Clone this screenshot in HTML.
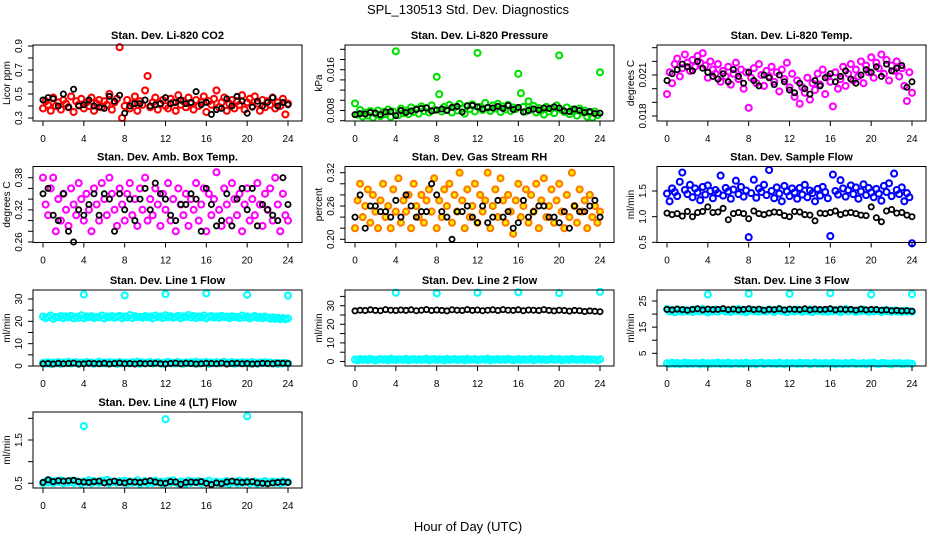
<!DOCTYPE html>
<html><head><meta charset="utf-8"><title>SPL_130513 Std. Dev. Diagnostics</title>
<style>html,body{margin:0;padding:0;background:#fff}svg{display:block;font-family:"Liberation Sans",Arial,sans-serif}</style>
</head><body>
<svg id="chart" width="936" height="540" viewBox="0 0 936 540">
<rect x="0" y="0" width="936" height="540" fill="#fff"/>
<text x="468" y="14" font-size="13" text-anchor="middle">SPL_130513  Std. Dev. Diagnostics</text>
<text x="468" y="531" font-size="13" text-anchor="middle">Hour of Day (UTC)</text>
</svg>
<script>
const xTicks=[0,4,8,12,16,20,24];
const co2Red=[0.38,0.44,0.41,0.36,0.47,0.40,0.43,0.37,0.45,0.42,0.39,0.48,0.35,0.44,0.41,0.46,0.38,0.43,0.40,0.47,0.36,0.42,0.45,0.39,0.44,0.41,0.50,0.37,0.43,0.46,0.89,0.30,0.40,0.45,0.38,0.42,0.48,0.36,0.44,0.41,0.53,0.65,0.39,0.43,0.47,0.37,0.42,0.45,0.40,0.38,0.46,0.43,0.36,0.49,0.41,0.44,0.39,0.47,0.42,0.37,0.45,0.40,0.43,0.48,0.35,0.44,0.41,0.46,0.53,0.39,0.43,0.47,0.36,0.42,0.45,0.38,0.44,0.41,0.49,0.37,0.43,0.46,0.40,0.48,0.42,0.36,0.45,0.39,0.44,0.41,0.47,0.38,0.43,0.40,0.46,0.33,0.42];
const co2Black=[0.45,0.47,0.46,0.40,0.50,0.39,0.54,0.40,0.41,0.45,0.40,0.39,0.38,0.48,0.44,0.49,0.34,0.40,0.42,0.42,0.45,0.40,0.41,0.42,0.47,0.42,0.43,0.45,0.42,0.43,0.52,0.41,0.43,0.33,0.37,0.38,0.46,0.40,0.48,0.44,0.34,0.39,0.44,0.40,0.43,0.47,0.40,0.43,0.41];
const presGreen=[0.0094,0.0072,0.0081,0.0068,0.0076,0.0070,0.0079,0.0066,0.0074,0.0080,0.0069,0.0077,0.0073,0.0082,0.0067,0.0078,0.0196,0.0071,0.0084,0.0075,0.0080,0.0073,0.0086,0.0077,0.0083,0.0074,0.0088,0.0079,0.0085,0.0076,0.0090,0.0081,0.0146,0.0112,0.0078,0.0087,0.0082,0.0091,0.0076,0.0086,0.0080,0.0093,0.0084,0.0074,0.0089,0.0083,0.0092,0.0078,0.0193,0.0087,0.0081,0.0095,0.0085,0.0079,0.0090,0.0084,0.0093,0.0077,0.0088,0.0082,0.0091,0.0079,0.0086,0.0083,0.0152,0.0114,0.0087,0.0078,0.0098,0.0082,0.0089,0.0076,0.0085,0.0080,0.0072,0.0087,0.0078,0.0084,0.0075,0.0090,0.0188,0.0081,0.0077,0.0086,0.0073,0.0082,0.0079,0.0070,0.0084,0.0076,0.0080,0.0068,0.0075,0.0066,0.0078,0.0071,0.0155];
const presBlack=[0.0072,0.0074,0.0073,0.0076,0.0075,0.0072,0.0077,0.0078,0.0070,0.0080,0.0076,0.0079,0.0082,0.0084,0.0085,0.0079,0.0081,0.0083,0.0080,0.0086,0.0088,0.0077,0.0089,0.0090,0.0087,0.0083,0.0086,0.0085,0.0088,0.0084,0.0090,0.0082,0.0086,0.0077,0.0080,0.0083,0.0081,0.0085,0.0084,0.0087,0.0085,0.0079,0.0078,0.0083,0.0080,0.0076,0.0078,0.0074,0.0075];
const tempMag=[0.0196,0.0212,0.0204,0.0218,0.0222,0.0209,0.0215,0.0225,0.0219,0.0213,0.0221,0.0216,0.0224,0.0219,0.0226,0.0217,0.0208,0.0220,0.0214,0.0211,0.0218,0.0205,0.0213,0.0209,0.0216,0.0203,0.0211,0.0219,0.0207,0.0214,0.0200,0.0212,0.0186,0.0208,0.0215,0.0204,0.0218,0.0210,0.0202,0.0213,0.0209,0.0216,0.0205,0.0212,0.0198,0.0214,0.0207,0.0219,0.0201,0.0211,0.0194,0.0206,0.0189,0.0201,0.0197,0.0208,0.0192,0.0204,0.0199,0.0211,0.0203,0.0214,0.0196,0.0209,0.0205,0.0187,0.0212,0.0200,0.0207,0.0216,0.0202,0.0211,0.0218,0.0206,0.0214,0.0209,0.0220,0.0204,0.0217,0.0212,0.0223,0.0208,0.0219,0.0215,0.0225,0.0211,0.0221,0.0206,0.0217,0.0213,0.0220,0.0209,0.0215,0.0202,0.0191,0.0212,0.0197];
const tempBlack=[0.0206,0.0211,0.0214,0.0218,0.0216,0.0213,0.0220,0.0215,0.0212,0.0209,0.0207,0.0211,0.0205,0.0214,0.0209,0.0204,0.0212,0.0206,0.0202,0.0210,0.0208,0.0203,0.0210,0.0205,0.0199,0.0197,0.0204,0.0200,0.0196,0.0206,0.0202,0.0208,0.0211,0.0205,0.0209,0.0213,0.0207,0.0204,0.0210,0.0214,0.0212,0.0216,0.0209,0.0218,0.0213,0.0215,0.0217,0.0201,0.0205];
const ambMag=[0.38,0.33,0.31,0.36,0.38,0.28,0.34,0.30,0.35,0.32,0.29,0.36,0.33,0.31,0.37,0.34,0.30,0.35,0.32,0.28,0.36,0.33,0.30,0.37,0.34,0.31,0.38,0.35,0.32,0.29,0.36,0.33,0.30,0.35,0.37,0.31,0.34,0.29,0.36,0.32,0.38,0.30,0.34,0.31,0.36,0.33,0.29,0.35,0.32,0.37,0.30,0.34,0.28,0.36,0.33,0.31,0.35,0.29,0.34,0.32,0.37,0.30,0.33,0.36,0.28,0.35,0.31,0.34,0.39,0.32,0.29,0.36,0.33,0.30,0.37,0.34,0.31,0.35,0.28,0.33,0.36,0.30,0.34,0.31,0.37,0.33,0.29,0.35,0.32,0.36,0.30,0.38,0.33,0.28,0.35,0.31,0.30];
const ambBlack=[0.35,0.36,0.31,0.30,0.35,0.28,0.26,0.32,0.31,0.33,0.35,0.31,0.35,0.34,0.28,0.35,0.32,0.34,0.30,0.34,0.36,0.32,0.37,0.35,0.34,0.31,0.30,0.33,0.33,0.35,0.34,0.28,0.36,0.33,0.29,0.30,0.35,0.29,0.34,0.36,0.32,0.36,0.29,0.33,0.32,0.31,0.30,0.38,0.33];
const rhColor=[0.22,0.27,0.30,0.24,0.26,0.29,0.23,0.28,0.25,0.22,0.27,0.30,0.24,0.26,0.22,0.29,0.25,0.31,0.23,0.27,0.25,0.28,0.22,0.30,0.26,0.24,0.28,0.23,0.27,0.29,0.25,0.31,0.22,0.27,0.24,0.29,0.26,0.30,0.23,0.28,0.25,0.32,0.27,0.22,0.29,0.24,0.26,0.30,0.23,0.28,0.25,0.27,0.32,0.22,0.26,0.29,0.24,0.31,0.27,0.23,0.28,0.25,0.21,0.27,0.30,0.24,0.26,0.29,0.23,0.28,0.25,0.30,0.22,0.27,0.31,0.24,0.26,0.29,0.23,0.27,0.30,0.25,0.22,0.28,0.24,0.32,0.26,0.23,0.29,0.25,0.27,0.22,0.28,0.24,0.26,0.23,0.25];
const rhBlack=[0.24,0.28,0.22,0.26,0.26,0.25,0.25,0.24,0.27,0.24,0.28,0.26,0.24,0.25,0.25,0.30,0.28,0.25,0.24,0.20,0.25,0.25,0.26,0.24,0.23,0.26,0.23,0.24,0.27,0.24,0.25,0.22,0.23,0.27,0.24,0.25,0.26,0.26,0.24,0.24,0.23,0.25,0.22,0.26,0.25,0.25,0.26,0.27,0.24];
const flowBlue=[1.45,1.30,1.55,1.48,1.40,1.68,1.86,1.52,1.44,1.62,1.38,1.55,1.47,1.32,1.58,1.43,1.61,1.50,1.36,1.52,1.46,1.80,1.41,1.56,1.49,1.35,1.53,1.70,1.44,1.58,1.39,1.51,0.60,1.46,1.72,1.37,1.55,1.48,1.62,1.42,1.91,1.50,1.36,1.57,1.45,1.30,1.60,1.49,1.40,1.55,1.47,1.35,1.56,1.43,1.62,1.38,1.51,1.46,1.30,1.54,1.41,1.58,1.48,1.36,0.62,1.82,1.50,1.43,1.71,1.55,1.39,1.52,1.61,1.44,1.57,1.35,1.49,1.63,1.42,1.56,1.47,1.38,1.54,1.45,1.31,1.60,1.48,1.65,1.40,1.84,1.52,1.44,1.57,1.30,1.46,1.38,0.48];
const flowBlack=[1.07,1.04,1.06,1.01,1.10,1.00,1.08,1.10,1.19,1.08,1.09,1.16,0.94,1.06,1.08,1.06,0.96,1.11,1.06,1.04,1.07,1.09,1.08,1.02,1.00,1.10,1.09,1.04,1.03,0.92,1.07,1.06,1.08,1.11,1.04,1.07,1.08,1.06,1.03,1.02,1.19,0.98,0.90,1.11,1.14,1.07,1.08,1.03,1.00];
const line1CyanHi=[22.1,21.4,21.9,22.6,21.2,22.0,21.7,22.4,21.5,22.2,21.8,22.5,21.3,22.0,21.6,22.7,21.4,22.1,21.9,22.3,21.5,22.0,21.7,22.6,21.3,22.2,21.8,22.4,21.6,22.0,22.5,21.4,22.1,21.7,22.8,21.5,22.3,21.9,22.0,21.6,22.4,21.8,22.2,21.3,22.6,21.9,22.1,21.5,22.7,21.8,22.3,21.6,22.0,22.5,21.4,22.2,21.9,22.8,21.7,22.4,21.5,22.1,21.8,22.6,21.3,22.0,22.4,21.7,22.2,21.6,22.5,21.9,22.1,21.4,22.3,21.8,22.0,21.5,22.6,21.7,22.2,21.3,21.9,22.4,21.6,22.0,21.4,22.1,21.7,21.2,21.8,21.1,21.6,21.0,21.5,20.9,21.3];
const line1CyanLo=[1.4,1.1,1.7,0.9,1.5,1.2,1.8,1.0,1.6,1.3,1.9,1.1,1.4,1.7,1.0,1.5,1.2,1.8,1.3,1.6,1.0,1.4,1.9,1.2,1.5,1.1,1.7,1.3,1.6,1.0,1.8,1.2,1.5,1.4,1.1,1.7,1.3,1.9,1.0,1.6,1.2,1.5,1.8,1.1,1.4,1.7,1.3,1.0,1.6,1.9,1.2,1.5,1.1,1.8,1.4,1.0,1.6,1.3,1.7,1.2,1.9,1.1,1.5,1.4,1.8,1.0,1.6,1.3,1.7,1.2,1.5,1.9,1.1,1.4,1.8,1.0,1.6,1.3,1.7,1.2,1.5,1.1,1.8,1.4,1.0,1.6,1.3,1.7,1.2,1.5,1.1,1.4,1.0,1.3,1.2,1.4,1.1];
const line1Black=[1.0,1.1,0.9,1.2,1.0,1.1,1.3,0.9,1.0,1.2,1.1,1.0,1.2,0.9,1.1,1.3,1.0,1.1,0.9,1.2,1.0,1.1,1.2,1.0,0.9,1.1,1.3,1.0,1.2,1.1,0.9,1.0,1.2,1.1,1.0,1.3,0.9,1.1,1.2,1.0,1.1,0.9,1.0,1.2,1.1,1.0,1.3,1.2,1.1];
const line1OutHours=[4,8,12,16,20,24];
const line1OutVals=[32,31.6,32.2,32.5,31.9,31.5];
const line2Black=[27.2,27.6,27.4,27.8,27.5,27.3,27.9,27.6,27.4,27.7,27.5,27.8,27.3,27.6,27.9,27.4,27.7,27.5,27.2,27.8,27.6,27.4,27.9,27.5,27.7,27.3,27.6,27.8,27.4,27.9,27.6,27.5,27.8,27.3,27.7,27.6,27.4,27.9,27.5,27.2,27.6,27.4,27.1,27.5,27.3,26.9,27.2,27.0,26.8];
const line2CyanLo=[1.0,0.7,1.3,0.9,1.2,0.8,1.4,1.0,0.6,1.1,1.3,0.9,1.2,0.7,1.5,1.0,0.8,1.2,1.1,0.9,1.4,0.7,1.0,1.3,0.8,1.2,0.9,1.1,1.5,0.7,1.0,1.3,0.8,1.2,1.0,0.6,1.4,0.9,1.1,1.3,0.8,1.0,1.2,0.7,1.4,0.9,1.1,1.3,0.8,1.0,1.2,0.9,1.5,0.7,1.1,1.0,1.3,0.8,1.2,0.9,1.4,1.0,0.7,1.1,1.3,0.8,1.2,0.9,1.0,1.4,0.7,1.1,1.3,0.9,1.2,0.8,1.0,1.5,0.9,1.1,1.3,0.7,1.0,1.2,0.8,1.4,1.1,0.9,1.0,1.3,0.8,1.2,0.9,1.1,1.0,0.7,1.2];
const line2OutHours=[4,8,12,16,20,24];
const line2OutVals=[37,36.6,37,37.2,36.8,37.5];
const line3Black=[21.8,21.6,21.9,21.7,21.5,21.8,22.0,21.6,21.9,21.7,21.8,22.1,21.7,21.9,21.6,21.8,22.0,21.7,21.9,21.5,21.8,21.7,22.0,21.6,21.9,21.8,21.7,22.0,21.6,21.9,21.7,21.8,22.0,21.6,21.9,21.7,21.8,21.5,21.9,21.6,21.8,21.7,21.5,21.6,21.3,21.4,21.2,21.3,21.1];
const line3CyanHi=[21.9,21.0,21.5,20.7,21.8,21.2,20.9,21.6,21.1,21.4,20.8,21.7,21.3,21.0,21.9,21.2,20.6,21.5,21.1,21.8,20.9,21.4,21.6,21.0,21.3,20.8,21.7,21.2,21.9,21.0,21.5,20.7,21.3,21.8,21.1,21.4,20.9,21.6,21.2,21.0,21.7,21.3,20.8,21.5,21.9,21.1,21.4,20.7,21.6,21.2,21.0,21.8,21.3,20.9,21.5,21.1,21.7,20.8,21.4,21.2,21.6,21.0,21.3,20.9,21.8,21.1,21.5,21.2,20.7,21.4,21.9,21.0,21.6,21.3,20.8,21.5,21.1,21.7,21.2,20.9,21.4,21.0,21.6,21.2,20.8,21.5,21.1,21.3,20.9,21.4,21.0,21.2,20.8,21.3,21.0,21.1,20.9];
const line3CyanLo=[1.2,0.9,1.4,1.0,1.3,0.8,1.1,1.5,0.9,1.2,1.0,1.3,1.1,0.8,1.4,1.0,1.2,0.9,1.3,1.1,1.5,0.9,1.2,1.0,1.4,0.8,1.1,1.3,1.0,1.2,0.9,1.4,1.1,1.0,1.3,0.8,1.2,1.5,0.9,1.1,1.3,1.0,1.2,0.9,1.4,1.1,0.8,1.3,1.0,1.2,1.1,0.9,1.4,1.0,1.2,1.3,0.8,1.1,1.5,1.0,1.2,0.9,1.3,1.1,1.0,1.4,0.8,1.2,1.1,0.9,1.3,1.0,1.2,1.4,0.9,1.1,1.0,1.3,0.8,1.2,1.1,1.4,1.0,0.9,1.2,1.3,1.1,1.0,0.8,1.2,1.1,1.3,0.9,1.0,1.2,1.1,1.0];
const line3OutHours=[4,8,12,16,20,24];
const line3OutVals=[27.5,27.8,27.7,28.0,27.5,27.6];
const line4Cyan=[0.50,0.54,0.52,0.56,0.51,0.55,0.53,0.57,0.50,0.54,0.52,0.56,0.51,0.55,0.53,0.49,0.54,0.52,0.57,0.50,0.55,0.53,0.51,0.56,0.52,0.58,0.50,0.54,0.53,0.51,0.55,0.52,0.56,0.50,0.54,0.51,0.53,0.57,0.49,0.52,0.55,0.50,0.53,0.51,0.56,0.52,0.54,0.49,0.53,0.55,0.51,0.57,0.52,0.50,0.54,0.53,0.49,0.56,0.51,0.54,0.52,0.55,0.50,0.53,0.51,0.56,0.49,0.52,0.54,0.50,0.53,0.51,0.55,0.49,0.52,0.54,0.50,0.56,0.51,0.53,0.55,0.50,0.52,0.54,0.49,0.53,0.51,0.55,0.50,0.52,0.54,0.51,0.53,0.50,0.55,0.52,0.53];
const line4Black=[0.52,0.58,0.54,0.56,0.55,0.56,0.57,0.54,0.53,0.52,0.54,0.55,0.51,0.53,0.55,0.52,0.51,0.54,0.53,0.52,0.54,0.56,0.53,0.51,0.50,0.54,0.53,0.48,0.52,0.53,0.52,0.54,0.50,0.47,0.51,0.49,0.53,0.55,0.53,0.52,0.53,0.54,0.51,0.50,0.49,0.51,0.52,0.53,0.52];
const line4OutHours=[4,12,20];
const line4OutVals=[1.82,1.98,2.05];

const coTicks=[0.3,0.4,0.5,0.6,0.7,0.8,0.9], coLabels=["0.3","","0.5","","0.7","","0.9"];
const prTicks=[0.006,0.008,0.010,0.012,0.014,0.016,0.018,0.020], prLabels=["","0.008","","","","0.016","",""];
const teTicks=[0.018,0.019,0.020,0.021,0.022,0.023], teLabels=["0.018","","","0.021","",""];
const amTicks=[0.26,0.28,0.30,0.32,0.34,0.36,0.38], amLabels=["0.26","","","0.32","","","0.38"];
const rhTicks=[0.20,0.22,0.24,0.26,0.28,0.30,0.32], rhLabels=["0.20","","","0.26","","","0.32"];
const sfTicks=[0.5,1.0,1.5], sfLabels=["0.5","1.0","1.5"];
const l1Ticks=[0,5,10,15,20,25,30], l1Labels=["0","","10","","20","","30"];
const l2Ticks=[0,5,10,15,20,25,30,35], l2Labels=["0","","10","","20","","30",""];
const l3Ticks=[5,10,15,20,25], l3Labels=["5","","15","","25"];
const l4Ticks=[0.5,1.0,1.5,2.0], l4Labels=["0.5","","1.5",""];

const NS="http://www.w3.org/2000/svg";
const svg=document.getElementById('chart');
function mk(tag,attrs,parent){const e=document.createElementNS(NS,tag);for(const k in attrs)e.setAttribute(k,attrs[k]);(parent||svg).appendChild(e);return e;}

const panels=[
 {name:'co2',title:'Stan. Dev. Li-820 CO2',ylab:'Licor ppm',col:0,row:0,v0:0.3,p0:118,v1:0.9,p1:46,ticks:coTicks,labels:coLabels,
  series:[{vals:co2Red,step:0.25,c:'#ff0000'},{vals:co2Black,step:0.5,c:'#000'}]},
 {name:'pressure',title:'Stan. Dev. Li-820 Pressure',ylab:'kPa',col:1,row:0,v0:0.006,p0:120.7,v1:0.020,p1:49.3,ticks:prTicks,labels:prLabels,
  series:[{vals:presGreen,step:0.25,c:'#00e000'},{vals:presBlack,step:0.5,c:'#000'}]},
 {name:'li820-temp',title:'Stan. Dev. Li-820 Temp.',ylab:'degrees C',col:2,row:0,v0:0.018,p0:116,v1:0.023,p1:47.7,ticks:teTicks,labels:teLabels,
  series:[{vals:tempMag,step:0.25,c:'#ff00ff'},{vals:tempBlack,step:0.5,c:'#000'}]},
 {name:'amb-box-temp',title:'Stan. Dev. Amb. Box Temp.',ylab:'degrees C',col:0,row:1,v0:0.26,p0:242,v1:0.38,p1:177.7,ticks:amTicks,labels:amLabels,
  series:[{vals:ambMag,step:0.25,c:'#ff00ff'},{vals:ambBlack,step:0.5,c:'#000'}]},
 {name:'gas-stream-rh',title:'Stan. Dev. Gas Stream RH',ylab:'percent',col:1,row:1,v0:0.20,p0:239.3,v1:0.32,p1:172.7,ticks:rhTicks,labels:rhLabels,
  series:[{vals:rhColor,step:0.25,c:'#ff7a00',fill:'#ffee00'},{vals:rhBlack,step:0.5,c:'#000'}]},
 {name:'sample-flow',title:'Stan. Dev. Sample Flow',ylab:'ml/min',col:2,row:1,v0:0.5,p0:242.3,v1:1.5,p1:191,ticks:sfTicks,labels:sfLabels,
  series:[{vals:flowBlue,step:0.25,c:'#0000ff'},{vals:flowBlack,step:0.5,c:'#000'}]},
 {name:'line1-flow',title:'Stan. Dev. Line 1 Flow',ylab:'ml/min',col:0,row:2,v0:0,p0:366,v1:30,p1:299,ticks:l1Ticks,labels:l1Labels,
  series:[{vals:line1CyanHi,step:0.25,c:'#00ffff'},{vals:line1CyanLo,step:0.25,c:'#00ffff'},{hours:line1OutHours,vals:line1OutVals,c:'#00ffff'},{vals:line1Black,step:0.5,c:'#000'}]},
 {name:'line2-flow',title:'Stan. Dev. Line 2 Flow',ylab:'ml/min',col:1,row:2,v0:0,p0:361.5,v1:30,p1:305.7,ticks:l2Ticks,labels:l2Labels,
  series:[{vals:line2CyanLo,step:0.25,c:'#00ffff'},{hours:line2OutHours,vals:line2OutVals,c:'#00ffff'},{vals:line2Black,step:0.5,c:'#000'}]},
 {name:'line3-flow',title:'Stan. Dev. Line 3 Flow',ylab:'ml/min',col:2,row:2,v0:5,p0:353.3,v1:25,p1:301,ticks:l3Ticks,labels:l3Labels,
  series:[{vals:line3CyanHi,step:0.25,c:'#00ffff'},{vals:line3CyanLo,step:0.25,c:'#00ffff'},{hours:line3OutHours,vals:line3OutVals,c:'#00ffff'},{vals:line3Black,step:0.5,c:'#000'}]},
 {name:'line4-flow',title:'Stan. Dev. Line 4 (LT) Flow',ylab:'ml/min',col:0,row:3,v0:0.5,p0:483.3,v1:1.5,p1:440,ticks:l4Ticks,labels:l4Labels,
  series:[{vals:line4Cyan,step:0.25,c:'#00ffff'},{hours:line4OutHours,vals:line4OutVals,c:'#00ffff'},{vals:line4Black,step:0.5,c:'#000'}]}
];
const rowTop=[45,166.5,290,412], rowBot=[121,242.5,366,488];

panels.forEach(p=>{
  const left=33+312*p.col, right=302+312*p.col, top=rowTop[p.row], bot=rowBot[p.row];
  const xs=h=>left+10+h*245/24;
  const ys=v=>p.p0+(v-p.v0)*(p.p1-p.p0)/(p.v1-p.v0);
  const g=mk('g',{});
  
  
  const t=mk('text',{x:(left+right)/2,y:top-6,'font-size':11,'font-weight':'bold','text-anchor':'middle'},g);
  t.textContent=p.title;
  
  
  const pts=mk('g',{},g);
  
  
  p.series.forEach(s=>{
    const black=s.c==='#000';
    s.vals.forEach((v,i)=>{
      const h=s.hours?s.hours[i]:i*s.step;
      const c=mk('circle',{cx:xs(h).toFixed(1),cy:ys(v).toFixed(1),r:black?2.6:3,fill:s.fill||'none',stroke:s.c,'stroke-width':black?1.8:2.1},pts);
      
      
    });
  });
  const box=mk('rect',{x:left,y:top,width:right-left,height:bot-top,fill:'none',stroke:'#000','stroke-width':1},g);
  
  
  xTicks.forEach(h=>{
    const x=xs(h);
    const tk=mk('line',{x1:x,x2:x,y1:bot,y2:bot+5,stroke:'#000'},g);
    
    
    const lb=mk('text',{x:x,y:bot+21,'font-size':10,'text-anchor':'middle'},g);
    lb.textContent=String(h);
    
    
  });
  p.ticks.forEach((v,i)=>{
    const y=ys(v);
    const tk=mk('line',{x1:left-5,x2:left,y1:y,y2:y,stroke:'#000'},g);
    
    
    if(p.labels[i]){
      const lb=mk('text',{x:left-11,y:y,'font-size':10,'text-anchor':'middle',transform:'rotate(-90 '+(left-11)+' '+y+')'},g);
      lb.textContent=p.labels[i];
      
      
    }
  });
  const yc=(top+bot)/2, xt=left-23;
  const yl=mk('text',{x:xt,y:yc,'font-size':10,'text-anchor':'middle',transform:'rotate(-90 '+xt+' '+yc+')'},g);
  yl.textContent=p.ylab;
  
  
});
</script>
</body></html>
